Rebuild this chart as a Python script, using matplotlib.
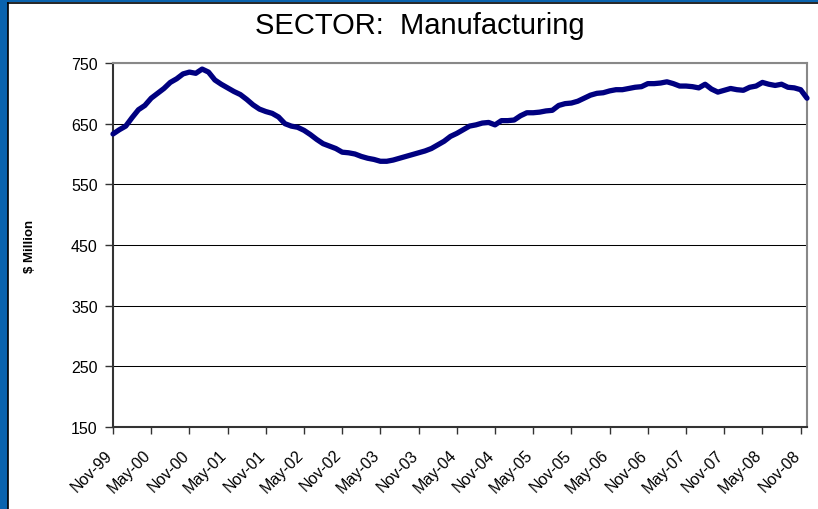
import matplotlib
matplotlib.use("Agg")
import matplotlib.pyplot as plt
import matplotlib.transforms as mtransforms
from matplotlib.patches import Rectangle
from matplotlib.lines import Line2D

plt.rcParams['font.family'] = ['Liberation Sans', 'DejaVu Sans']

# Monthly output, Nov-1999 through Dec-2008 ($ Million)
values = [
    633, 640, 646, 660, 673, 680, 692, 700, 708, 718,
    724, 732, 735, 733, 740, 735, 722, 715, 709, 703,
    698, 690, 681, 674, 670, 667, 661, 650, 646, 644,
    639, 632, 624, 617, 613, 609, 603, 602, 600, 596,
    593, 591, 588, 588, 590, 593, 596, 599, 602, 605,
    609, 615, 621, 629, 634, 640, 646, 648, 651, 652,
    648, 655, 655, 656, 663, 668, 668, 669, 671, 672,
    680, 683, 684, 687, 692, 697, 700, 701, 704, 706,
    706, 708, 710, 711, 716, 716, 717, 719, 716, 712,
    712, 711, 709, 715, 707, 702, 705, 708, 706, 705,
    710, 712, 718, 715, 713, 715, 710, 709, 706, 692,
]
tick_labels = ['Nov-99', 'May-00', 'Nov-00', 'May-01', 'Nov-01', 'May-02',
               'Nov-02', 'May-03', 'Nov-03', 'May-04', 'Nov-04', 'May-05',
               'Nov-05', 'May-06', 'Nov-06', 'May-07', 'Nov-07', 'May-08',
               'Nov-08']
y_ticks = [150, 250, 350, 450, 550, 650, 750]

W, H = 818, 510
fig = plt.figure(figsize=(W / 100, H / 100), dpi=100)
fig.patch.set_facecolor('#0A63AE')

# white panel with a thin black edge inside the blue frame
fig.patches.append(Rectangle((8 / W, 0), 1, (H - 3) / H, transform=fig.transFigure,
                             facecolor='white', edgecolor='none', zorder=-5))
fig.add_artist(Line2D([7.5 / W, 7.5 / W], [0, (H - 3.5) / H], transform=fig.transFigure,
                      color='black', lw=1.2, zorder=-4))
fig.add_artist(Line2D([7.5 / W, 1], [(H - 3.5) / H, (H - 3.5) / H], transform=fig.transFigure,
                      color='black', lw=1.2, zorder=-4))

left, right, top, bottom = 113, 807, 64, 428
ax = fig.add_axes([left / W, (H - bottom) / H, (right - left) / W, (bottom - top) / H])
ax.set_facecolor('white')

x = list(range(len(values)))
ax.plot(x, values, color='#000080', lw=3.8, solid_capstyle='round',
        solid_joinstyle='round', zorder=3, clip_on=False)

ax.set_xlim(0, len(values) - 1)
ax.set_ylim(150, 750)
ax.set_yticks(y_ticks)
ax.set_yticklabels([str(v) for v in y_ticks], fontsize=11.5)
ax.grid(axis='y', color='black', lw=0.75, zorder=1)
ax.set_axisbelow(True)

ax.set_xticks(list(range(0, len(values), 6)))
ax.set_xticklabels(tick_labels, fontsize=11.5, rotation=45, ha='right',
                   rotation_mode='anchor', va='center')
ax.tick_params(axis='x', direction='out', length=5, width=1, color='#333333', pad=13)
ax.tick_params(axis='y', direction='out', length=6, width=1, color='#333333', pad=5)
shift = mtransforms.ScaledTranslation(-3 / 100, 0, fig.dpi_scale_trans)
for lbl in ax.get_xticklabels():
    lbl.set_transform(lbl.get_transform() + shift)

for side in ('left', 'bottom'):
    ax.spines[side].set_color('#333333')
    ax.spines[side].set_linewidth(1.5)
for side in ('top', 'right'):
    ax.spines[side].set_color('#888888')
    ax.spines[side].set_linewidth(1.5)

fig.text(30 / W, 1 - 246 / H, '$ Million', fontsize=9.5, fontweight='bold',
         rotation=90, ha='center', va='center')

fig.text(420 / W, 1 - 26 / H, 'SECTOR:  Manufacturing', fontsize=21,
         ha='center', va='center')

fig.savefig('out.png', dpi=100, facecolor=fig.get_facecolor())
